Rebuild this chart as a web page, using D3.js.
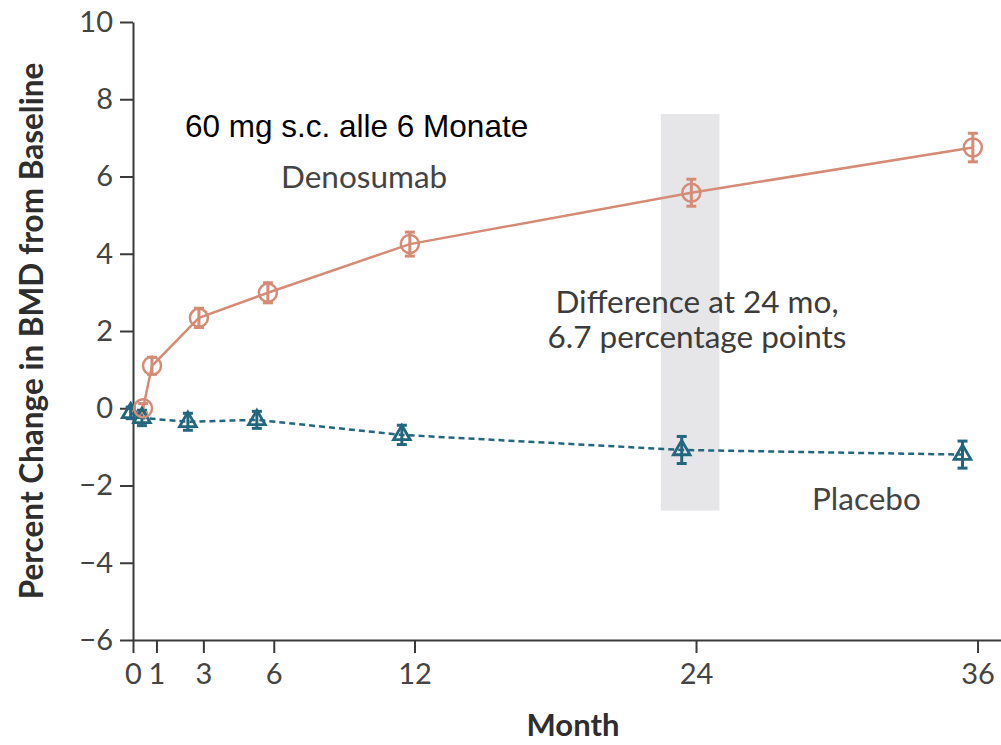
<!DOCTYPE html>
<html>
<head>
<meta charset="utf-8">
<script src="https://cdn.jsdelivr.net/npm/d3@7"></script>
<style>
  body { margin: 0; background: #fff; }
  text { font-family: Lato, "Open Sans", sans-serif; }
</style>
</head>
<body>
<svg width="1001" height="745"></svg>
<script>
// data (months as plotted, slightly dodged)
const monthTicks = [0, 1, 3, 6, 12, 24, 36];
const valueTicks = [-6, -4, -2, 0, 2, 4, 6, 8, 10];

const denoMonth = [0.43, 0.81, 2.81, 5.75, 11.8, 23.8, 35.8];
const denoValue = [0.0, 1.1, 2.34, 2.99, 4.25, 5.58, 6.75];
const denoErr   = [0.12, 0.22, 0.25, 0.26, 0.31, 0.35, 0.37];

const placeboMonth = [-0.1, 0.38, 2.34, 5.28, 11.46, 23.39, 35.36];
const placeboValue = [-0.12, -0.25, -0.35, -0.3, -0.69, -1.08, -1.2];
const placeboErr   = [0.15, 0.2, 0.22, 0.22, 0.25, 0.35, 0.35];

const bandMonths = [22.5, 25.0];
const bandValues = [-2.65, 7.62];

const width = 1001, height = 745;
const svg = d3.select("svg");

const x = d3.scaleLinear().domain([0, 37]).range([133, 1001]);
const y = d3.scaleLinear().domain([-6, 10]).range([640, 22]);

const salmon = "#d58b75";
const teal = "#23677f";
const axisColor = "#3a3a3a";
const textColor = "#444";

// shaded band at 24 months
svg.append("rect")
  .attr("x", x(bandMonths[0]))
  .attr("width", x(bandMonths[1]) - x(bandMonths[0]))
  .attr("y", y(bandValues[1]))
  .attr("height", y(bandValues[0]) - y(bandValues[1]))
  .attr("fill", "#e6e6e9");

// axes
const xAxis = svg.append("g")
  .attr("transform", "translate(0," + y(-6) + ")")
  .call(d3.axisBottom(x).tickValues(monthTicks).tickSize(13).tickPadding(10).tickSizeOuter(0));

const yAxis = svg.append("g")
  .attr("transform", "translate(" + x(0) + ",0)")
  .call(d3.axisLeft(y).tickValues(valueTicks).tickSize(13).tickPadding(7).tickSizeOuter(0)
    .tickFormat(d => d < 0 ? "\u2212" + Math.abs(d) : d));

[xAxis, yAxis].forEach(g => {
  g.select(".domain").attr("stroke", axisColor).attr("stroke-width", 2);
  g.selectAll(".tick line").attr("stroke", axisColor).attr("stroke-width", 2);
  g.selectAll(".tick text")
    .attr("fill", textColor)
    .style("font-size", "29px")
    .style("font-family", "Lato, sans-serif");
});

// axis titles
svg.append("text")
  .attr("x", 573).attr("y", 736)
  .attr("text-anchor", "middle")
  .attr("fill", "#2e2e2e")
  .style("font-size", "31px").style("font-weight", "bold")
  .text("Month");

svg.append("text")
  .attr("transform", "translate(43,331) rotate(-90)")
  .attr("text-anchor", "middle")
  .attr("fill", "#2e2e2e")
  .style("font-size", "31.5px").style("font-weight", "bold")
  .text("Percent Change in BMD from Baseline");

// series
const deno = denoMonth.map((m, i) => ({ m: m, v: denoValue[i], e: denoErr[i] }));
const placebo = placeboMonth.map((m, i) => ({ m: m, v: placeboValue[i], e: placeboErr[i] }));

const line = d3.line().x(d => x(d.m)).y(d => y(d.v));

svg.append("path")
  .datum(placebo)
  .attr("d", line)
  .attr("fill", "none")
  .attr("stroke", teal)
  .attr("stroke-width", 2.5)
  .attr("stroke-dasharray", "6,4");

svg.append("path")
  .datum(deno)
  .attr("d", line)
  .attr("fill", "none")
  .attr("stroke", salmon)
  .attr("stroke-width", 2.5);

function errorBars(data, color) {
  const g = svg.append("g").attr("stroke", color).attr("stroke-width", 3);
  g.selectAll(".bar").data(data).enter().append("line")
    .attr("x1", d => x(d.m)).attr("x2", d => x(d.m))
    .attr("y1", d => y(d.v + d.e)).attr("y2", d => y(d.v - d.e));
  g.selectAll(".capTop").data(data).enter().append("line")
    .attr("x1", d => x(d.m) - 5).attr("x2", d => x(d.m) + 5)
    .attr("y1", d => y(d.v + d.e)).attr("y2", d => y(d.v + d.e));
  g.selectAll(".capBot").data(data).enter().append("line")
    .attr("x1", d => x(d.m) - 5).attr("x2", d => x(d.m) + 5)
    .attr("y1", d => y(d.v - d.e)).attr("y2", d => y(d.v - d.e));
}

errorBars(placebo, teal);
errorBars(deno, salmon);

svg.selectAll(".tri").data(placebo).enter().append("path")
  .attr("d", d3.symbol().type(d3.symbolTriangle).size(120))
  .attr("transform", d => "translate(" + x(d.m) + "," + y(d.v) + ")")
  .attr("fill", "none")
  .attr("stroke", teal)
  .attr("stroke-width", 2.8);

svg.selectAll(".circ").data(deno).enter().append("circle")
  .attr("cx", d => x(d.m)).attr("cy", d => y(d.v))
  .attr("r", 9)
  .attr("fill", "none")
  .attr("stroke", salmon)
  .attr("stroke-width", 2.5);

// annotations
svg.append("text")
  .attr("x", 185).attr("y", 137)
  .attr("fill", "#000")
  .style("font-family", "'Liberation Sans', Arial, sans-serif")
  .style("font-size", "31.5px")
  .text("60 mg s.c. alle 6 Monate");

svg.append("text")
  .attr("x", 281).attr("y", 188)
  .attr("fill", textColor)
  .style("font-size", "31.5px")
  .text("Denosumab");

svg.append("text")
  .attr("x", 697).attr("y", 313)
  .attr("text-anchor", "middle")
  .attr("fill", "#3c3c3c")
  .style("font-size", "31.5px")
  .text("Difference at 24 mo,");

svg.append("text")
  .attr("x", 697).attr("y", 348)
  .attr("text-anchor", "middle")
  .attr("fill", "#3c3c3c")
  .style("font-size", "31.5px")
  .text("6.7 percentage points");

svg.append("text")
  .attr("x", 812).attr("y", 510)
  .attr("fill", textColor)
  .style("font-size", "31.5px")
  .text("Placebo");
</script>
</body>
</html>
